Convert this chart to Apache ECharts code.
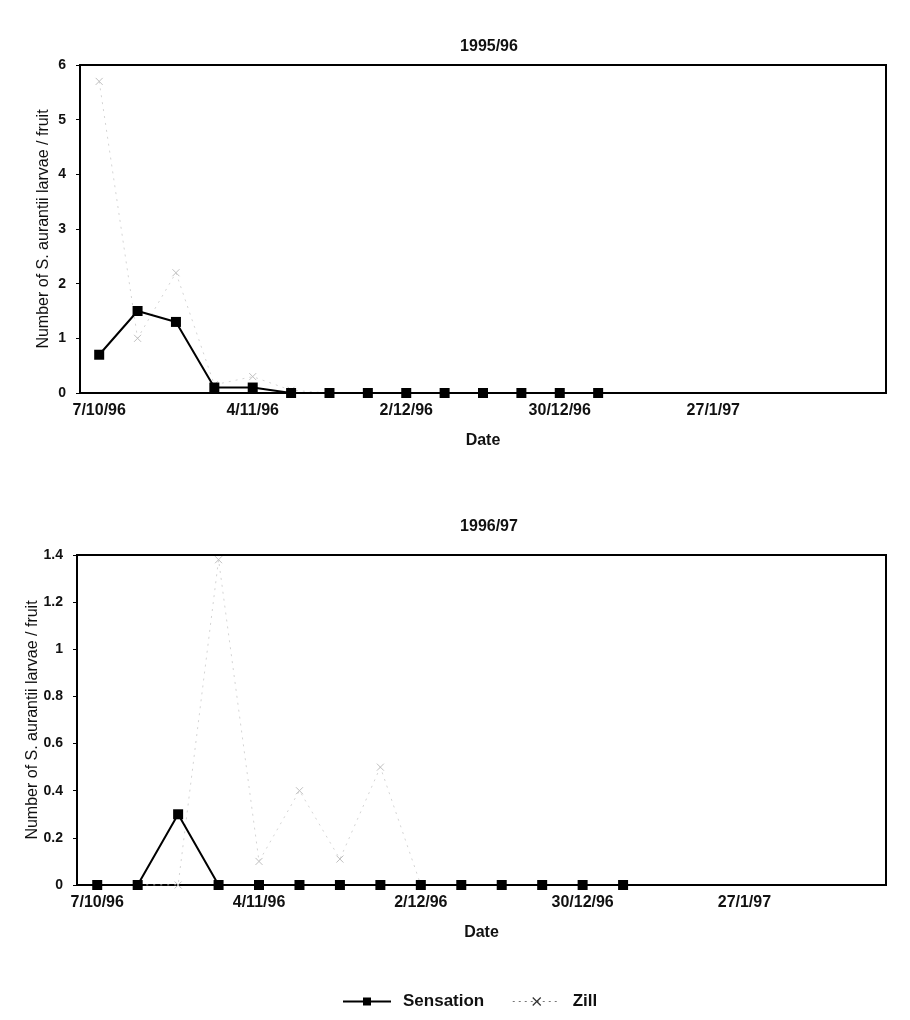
<!DOCTYPE html>
<html>
<head>
<meta charset="utf-8">
<script src="https://cdn.jsdelivr.net/npm/echarts@6/dist/echarts.min.js"></script>
<style>
html,body{margin:0;padding:0;background:#fff;}
#c{width:910px;height:1020px;}
</style>
</head>
<body>
<div id="c"></div>
<script>
// ---- data ----
const datesTop = ['7/10/96','14/10/96','21/10/96','28/10/96','4/11/96','11/11/96','18/11/96','25/11/96','2/12/96','9/12/96','16/12/96','23/12/96','30/12/96','6/1/97','13/1/97','20/1/97','27/1/97','3/2/97','10/2/97','17/2/97','24/2/97'];
const datesBottom = ['7/10/96','14/10/96','21/10/96','28/10/96','4/11/96','11/11/96','18/11/96','25/11/96','2/12/96','9/12/96','16/12/96','23/12/96','30/12/96','6/1/97','13/1/97','20/1/97','27/1/97','3/2/97','10/2/97','17/2/97'];
const tickLabels = ['7/10/96','4/11/96','2/12/96','30/12/96','27/1/97'];
const sensation9596 = [0.7, 1.5, 1.3, 0.1, 0.1, 0, 0, 0, 0, 0, 0, 0, 0, 0];
const zill9596      = [5.7, 1.0, 2.2, 0.15, 0.3, 0.05, 0, 0, 0, 0, 0, 0, 0, 0];
const sensation9697 = [0, 0, 0.3, 0, 0, 0, 0, 0, 0, 0, 0, 0, 0, 0];
const zill9697      = [0, 0, 0, 1.38, 0.1, 0.4, 0.11, 0.5, 0, 0, 0, 0, 0, 0];
const titles = ['1995/96', '1996/97'];
const yName = 'Number of S. aurantii larvae / fruit';

const FONT = 'Liberation Sans, Arial, sans-serif';
const crossPath = 'path://M0,0 L10,10 M10,0 L0,10';

const chart = echarts.init(document.getElementById('c'), null, {renderer: 'canvas'});

function xAxis(idx, cats) {
  return {
    type: 'category', gridIndex: idx, data: cats, boundaryGap: true,
    name: 'Date', nameLocation: 'middle', nameGap: 40,
    nameTextStyle: {fontFamily: FONT, fontSize: 16, color: '#111', fontWeight: 'bold'},
    axisLine: {lineStyle: {color: '#000', width: 2}},
    axisTick: {show: false},
    axisLabel: {
      interval: (i, v) => tickLabels.indexOf(v) >= 0,
      fontFamily: FONT, fontSize: 16, fontWeight: 'bold', color: '#111', margin: 10
    },
    splitLine: {show: false}
  };
}
function yAxis(idx, max, interval, gap) {
  return {
    type: 'value', gridIndex: idx, min: 0, max: max, interval: interval,
    name: yName, nameLocation: 'middle', nameGap: gap, nameMoveOverlap: false,
    nameTextStyle: {fontFamily: FONT, fontSize: 16, color: '#111'},
    axisLine: {show: true, lineStyle: {color: '#000', width: 2}},
    axisTick: {show: true, length: 4, lineStyle: {color: '#000'}},
    axisLabel: {fontFamily: FONT, fontSize: 14, fontWeight: 'bold', color: '#111', margin: 14},
    splitLine: {show: false}
  };
}
function sens(idx, data) {
  return {
    name: 'Sensation', type: 'line', xAxisIndex: idx, yAxisIndex: idx, data: data,
    symbol: 'rect', symbolSize: 10, z: 3,
    lineStyle: {color: '#000', width: 2}, itemStyle: {color: '#000'}
  };
}
function zill(idx, data) {
  return {
    name: 'Zill', type: 'line', xAxisIndex: idx, yAxisIndex: idx, data: data,
    symbol: crossPath, symbolSize: 7, z: 2,
    lineStyle: {color: '#d4d4d4', width: 1, type: [2, 5]},
    itemStyle: {color: 'none', borderColor: '#c0c0c0', borderWidth: 1}
  };
}

chart.setOption({
  backgroundColor: '#fff',
  animation: false,
  title: [
    {text: titles[0], left: 484, top: 34, textAlign: 'center',
     textStyle: {fontFamily: FONT, fontSize: 16, fontWeight: 'bold', color: '#111'}},
    {text: titles[1], left: 484, top: 514, textAlign: 'center',
     textStyle: {fontFamily: FONT, fontSize: 16, fontWeight: 'bold', color: '#111'}}
  ],
  grid: [
    {left: 80, right: 24, top: 65, height: 328, show: true, borderColor: '#000', borderWidth: 2, containLabel: false},
    {left: 77, right: 24, top: 555, height: 330, show: true, borderColor: '#000', borderWidth: 2, containLabel: false}
  ],
  xAxis: [xAxis(0, datesTop), xAxis(1, datesBottom)],
  yAxis: [yAxis(0, 6, 1, 28), yAxis(1, 1.4, 0.2, 36)],
  legend: {
    top: 988, left: 337, itemGap: 28, itemWidth: 48, itemHeight: 10,
    textStyle: {fontFamily: FONT, fontSize: 17, fontWeight: 'bold', color: '#111', padding: [0, 0, 0, 7]},
    data: [
      {name: 'Sensation', itemStyle: {color: '#000'}, lineStyle: {color: '#000', width: 2}},
      {name: 'Zill', itemStyle: {color: 'none', borderColor: '#333', borderWidth: 1.2}, lineStyle: {color: '#777', width: 1, type: [2, 4]}}
    ]
  },
  series: [sens(0, sensation9596), zill(0, zill9596), sens(1, sensation9697), zill(1, zill9697)]
});
</script>
</body>
</html>
